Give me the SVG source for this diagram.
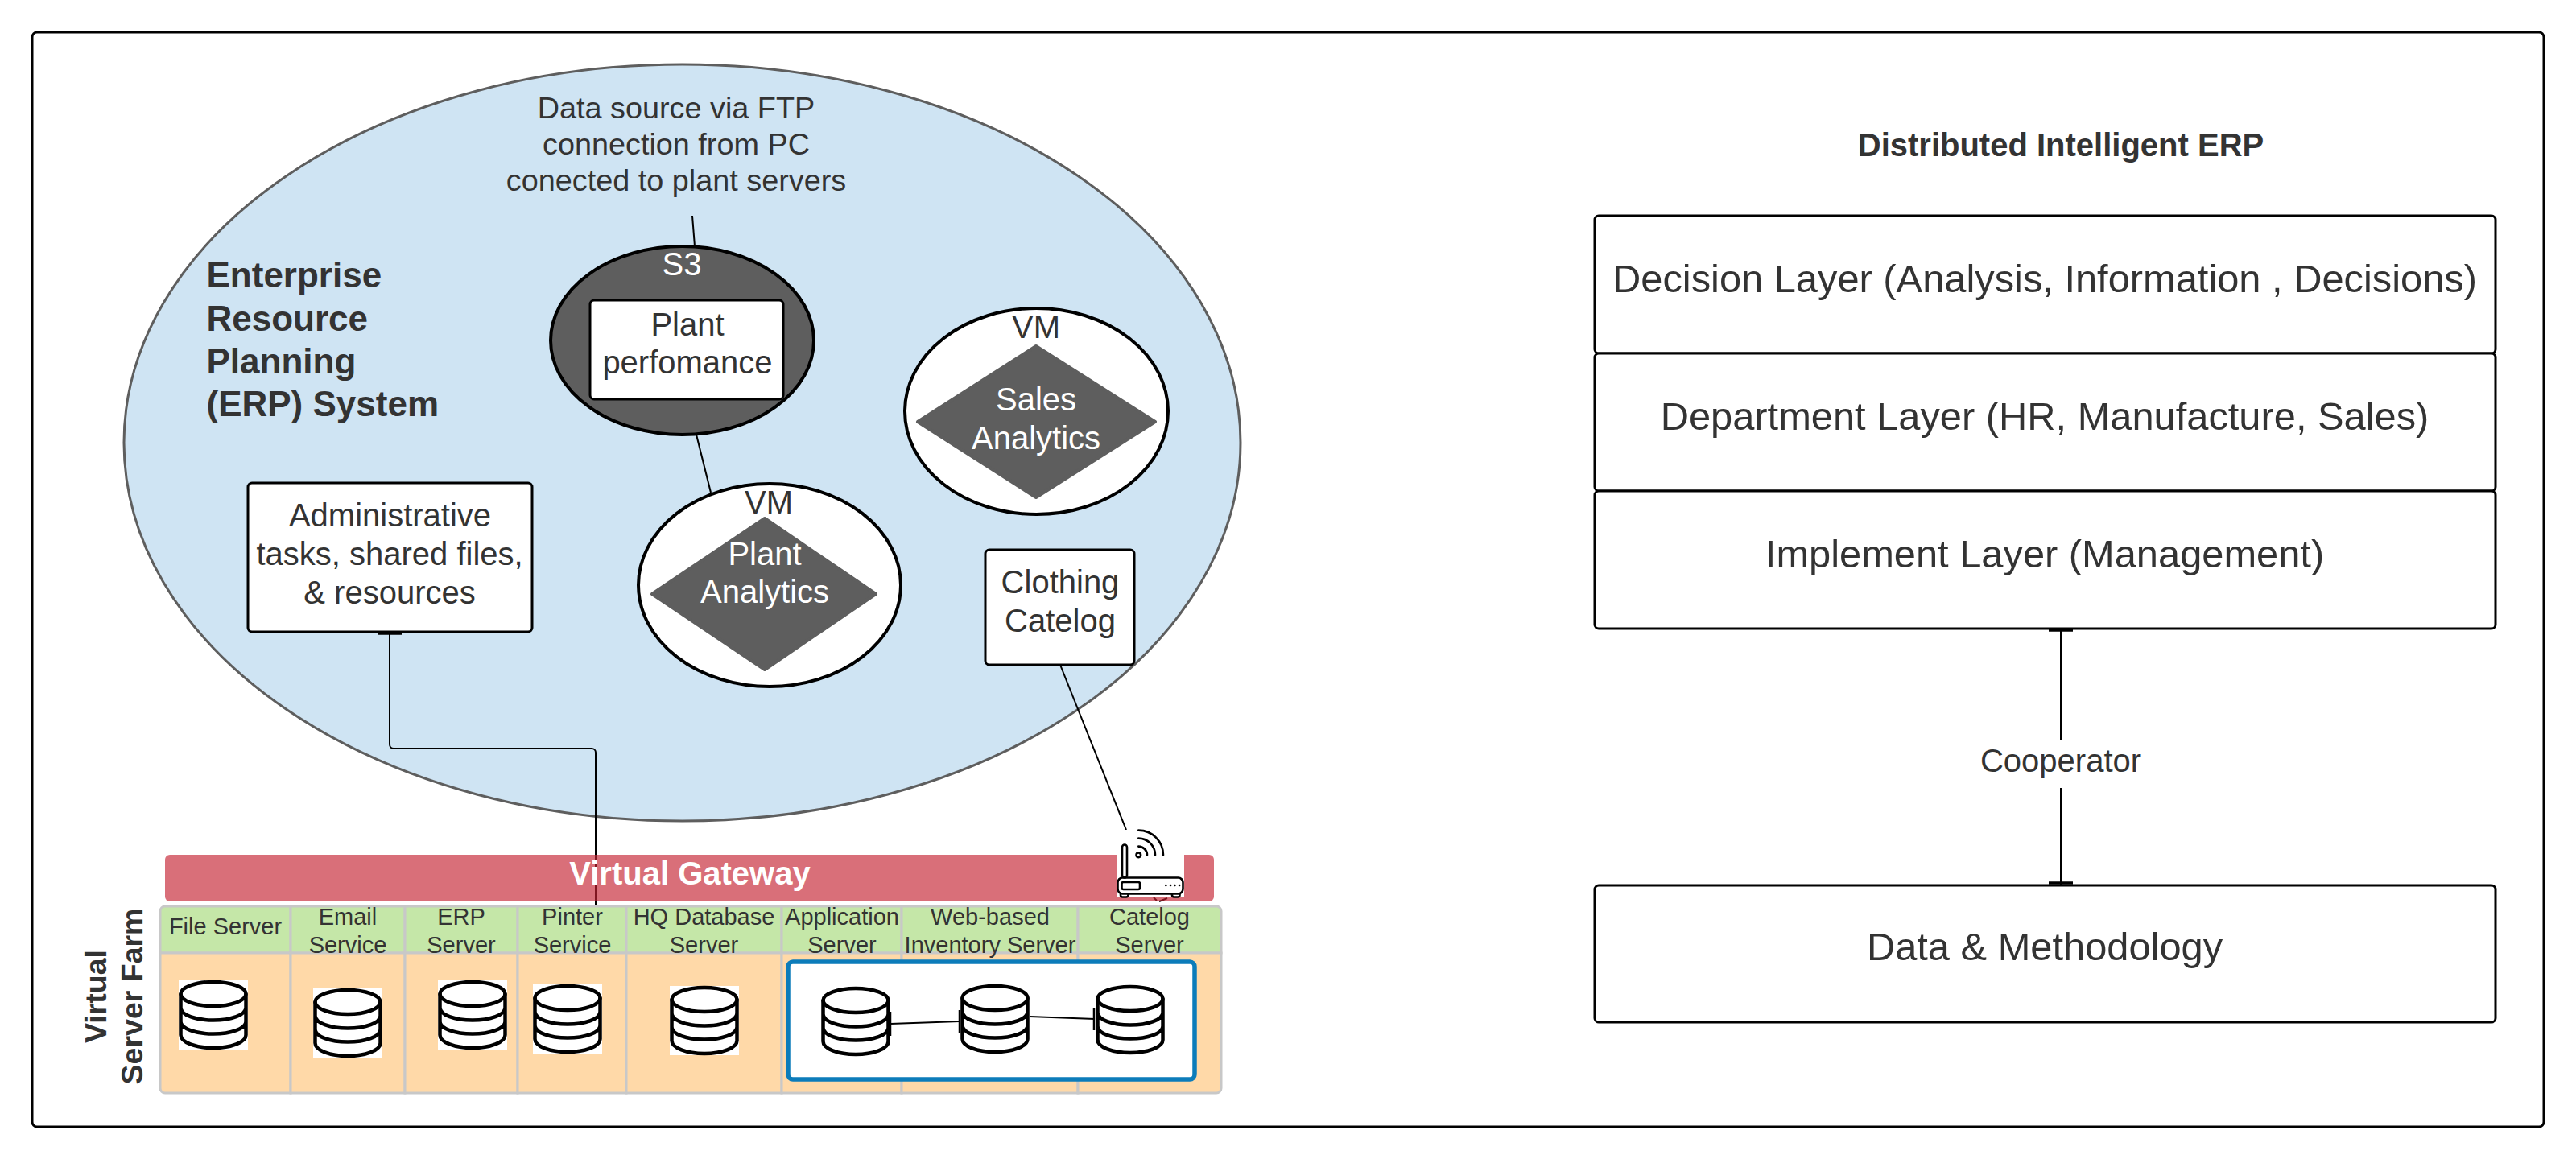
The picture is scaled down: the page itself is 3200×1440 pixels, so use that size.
<svg xmlns="http://www.w3.org/2000/svg" width="3200" height="1440" viewBox="0 0 3200 1440">
<style>
text{font-family:"Liberation Sans",Arial,sans-serif;fill:#333;text-anchor:middle}
.b{font-weight:700}
.w{fill:#fff}
.l{text-anchor:start}
.s29{font-size:29px}
.s37{font-size:37.500px}
.s38{font-size:37.800px}
.s40{font-size:40px}
.s44{font-size:44px}
.s49{font-size:48.800px}
.box{fill:#fff;stroke:#000;stroke-width:3}
.oval{stroke:#000;stroke-width:4}
.dark{fill:#5E5E5E}
.dia{fill:#5E5E5E;stroke:#5E5E5E;stroke-width:4;stroke-linejoin:round}
.con{fill:none;stroke:#000;stroke-width:2}
.tee{fill:none;stroke:#000;stroke-width:3.500}
.tee2{fill:none;stroke:#000;stroke-width:2.500}
.hd{fill:#C5E7A8;stroke:#C8C8C8;stroke-width:3}
.bd{fill:#FFD9A8;stroke:#C8C8C8;stroke-width:3}
.ic{fill:none;stroke:#000;stroke-width:4.500;stroke-linecap:round}
.rt{fill:none;stroke:#000;stroke-width:2.600;stroke-linecap:round;stroke-linejoin:round}
</style>
<defs>
<g id="db">
<rect width="86" height="86" fill="#fff"/>
<ellipse class="ic" cx="43" cy="17" rx="40.500" ry="15"/>
<path class="ic" d="M2.500,17V68C2.500,77 21,84 43,84S83.500,77 83.500,68V17M2.500,34C2.500,43 21,49.500 43,49.500S83.500,43 83.500,34M2.500,51C2.500,60 21,66.500 43,66.500S83.500,60 83.500,51"/>
</g>
</defs>
<rect width="3200" height="1440" fill="#fff"/>
<rect id="frame" x="40" y="40" width="3120" height="1360" rx="6" fill="#fff" stroke="#000" stroke-width="3"/>
<g id="erp-system">
<ellipse cx="847.500" cy="550" rx="693.500" ry="470" fill="#CFE4F3" stroke="#5E5E5E" stroke-width="3"/>
<text class="b s44 l" x="256.500" y="357">Enterprise</text>
<text class="b s44 l" x="256.500" y="411">Resource</text>
<text class="b s44 l" x="256.500" y="464">Planning</text>
<text class="b s44 l" x="256.500" y="517">(ERP) System</text>
</g>
<g id="data-source">
<text class="s38" x="840" y="147">Data source via FTP</text>
<text class="s38" x="840" y="192">connection from PC</text>
<text class="s38" x="840" y="237">conected to plant servers</text>
</g>
<g id="server-farm-label">
<text class="b s37" transform="translate(132,1238) rotate(-90)">Virtual</text>
<text class="b s37" transform="translate(177,1238) rotate(-90)">Server Farm</text>
</g>
<g id="col-file">
<path class="hd" d="M199,1184V1132a6,6 0 0 1 6,-6H361V1184Z"/>
<path class="bd" d="M199,1184H361V1358H205a6,6 0 0 1 -6,-6Z"/>
<text class="s29" x="280" y="1161">File Server</text>
<use href="#db" x="222" y="1218"/>
</g>
<g id="col-email">
<rect class="hd" x="361" y="1126" width="142" height="58"/>
<rect class="bd" x="361" y="1184" width="142" height="174"/>
<text class="s29" x="432" y="1149">Email</text>
<text class="s29" x="432" y="1184">Service</text>
<use href="#db" x="389" y="1228"/>
</g>
<g id="col-erp">
<rect class="hd" x="503" y="1126" width="140" height="58"/>
<rect class="bd" x="503" y="1184" width="140" height="174"/>
<text class="s29" x="573" y="1149">ERP</text>
<text class="s29" x="573" y="1184">Server</text>
<use href="#db" x="544" y="1218"/>
</g>
<g id="col-printer">
<rect class="hd" x="643" y="1126" width="135" height="58"/>
<rect class="bd" x="643" y="1184" width="135" height="174"/>
<text class="s29" x="711" y="1149">Pinter</text>
<text class="s29" x="711" y="1184">Service</text>
<use href="#db" x="662" y="1223"/>
</g>
<g id="col-hq">
<rect class="hd" x="778" y="1126" width="193" height="58"/>
<rect class="bd" x="778" y="1184" width="193" height="174"/>
<text class="s29" x="874.500" y="1149">HQ Database</text>
<text class="s29" x="874.500" y="1184">Server</text>
<use href="#db" x="832" y="1225"/>
</g>
<g id="col-app">
<rect class="hd" x="971" y="1126" width="149" height="58"/>
<rect class="bd" x="971" y="1184" width="149" height="174"/>
<text class="s29" x="1046" y="1149">Application</text>
<text class="s29" x="1046" y="1184">Server</text>
</g>
<g id="col-web">
<rect class="hd" x="1120" y="1126" width="219" height="58"/>
<rect class="bd" x="1120" y="1184" width="219" height="174"/>
<text class="s29" x="1230" y="1149">Web-based</text>
<text class="s29" x="1230" y="1184">Inventory Server</text>
</g>
<g id="col-catalog">
<path class="hd" d="M1339,1126H1511a6,6 0 0 1 6,6V1184H1339Z"/>
<path class="bd" d="M1339,1184H1517V1352a6,6 0 0 1 -6,6H1339Z"/>
<text class="s29" x="1428" y="1149">Catelog</text>
<text class="s29" x="1428" y="1184">Server</text>
</g>
<g id="cluster">
<rect x="979" y="1195" width="505" height="146" rx="6" fill="#fff" stroke="#0C7CBA" stroke-width="5.500"/>
<use href="#db" x="1020" y="1226"/>
<use href="#db" x="1193" y="1223"/>
<use href="#db" x="1361" y="1224"/>
</g>
<g id="connectors">
<path class="con" d="M860,268L863,306"/>
<path class="con" d="M865,540L883,612"/>
<path class="con" d="M484,786V925a5,5 0 0 0 5,5H735a5,5 0 0 1 5,5V1125"/>
<path class="tee" d="M470,787H499"/>
<path class="con" d="M1317,826L1399,1031"/>
<path class="con" d="M1433,1115L1437,1119M1440,1120L1450,1116"/>
<path class="con" d="M2560,782V919M2560,979V1100"/>
<path class="tee" d="M2545,783H2575M2545,1097H2575"/>
<path class="con" d="M1106,1272L1192,1269"/>
<path class="con" d="M1279,1263L1360,1266"/>
<path class="tee2" d="M1106,1257V1287M1192,1255V1283M1359,1252V1280"/>
</g>
<g id="s3">
<ellipse class="oval dark" cx="847.500" cy="423" rx="163.500" ry="117"/>
<text class="s40 w" x="847" y="342">S3</text>
</g>
<g id="plant-performance">
<rect class="box" x="733" y="373" width="240" height="123" rx="5"/>
<text class="s40" x="854" y="417">Plant</text>
<text class="s40" x="854" y="464">perfomance</text>
</g>
<g id="vm-sales">
<ellipse class="oval" cx="1287.500" cy="511" rx="163.500" ry="128" fill="#fff"/>
<text class="s40" x="1287" y="420">VM</text>
<path class="dia" d="M1287,430L1435,524L1287,618L1140,524Z"/>
<text class="s40 w" x="1287" y="510">Sales</text>
<text class="s40 w" x="1287" y="558">Analytics</text>
</g>
<g id="vm-plant">
<ellipse class="oval" cx="956" cy="727" rx="163" ry="126" fill="#fff"/>
<text class="s40" x="955" y="638">VM</text>
<path class="dia" d="M950,644L1088,738L950,832L810,738Z"/>
<text class="s40 w" x="950" y="702">Plant</text>
<text class="s40 w" x="950" y="749">Analytics</text>
</g>
<g id="admin">
<rect class="box" x="308" y="600" width="353" height="185" rx="5"/>
<text class="s40" x="484.500" y="654">Administrative</text>
<text class="s40" x="484" y="702">tasks, shared files,</text>
<text class="s40" x="484" y="750">&amp; resources</text>
</g>
<g id="clothing">
<rect class="box" x="1224" y="683" width="185" height="143" rx="5"/>
<text class="s40" x="1317" y="737">Clothing</text>
<text class="s40" x="1317" y="785">Catelog</text>
</g>
<g id="gateway">
<rect x="205" y="1062" width="1303" height="58" rx="6" fill="#C52231" fill-opacity=".65"/>
<text class="b s40 w" x="857" y="1099">Virtual Gateway</text>
</g>
<g id="router">
<rect x="1387" y="1031" width="84" height="84" fill="#fff"/>
<rect class="rt" x="1394" y="1049.500" width="6" height="41" rx="3"/>
<rect class="rt" x="1388.500" y="1090.500" width="81" height="20" rx="6" stroke-width="3"/>
<rect class="rt" x="1393.500" y="1096" width="22.500" height="9" rx="2"/>
<path class="rt" d="M1392,1111V1112a2.500,2.500 0 0 0 2.500,2.500H1399a2.500,2.500 0 0 0 2.500,-2.500V1111M1456,1111V1112a2.500,2.500 0 0 0 2.500,2.500H1463a2.500,2.500 0 0 0 2.500,-2.500V1111"/>
<circle class="rt" cx="1414.300" cy="1062.300" r="2.800"/>
<path class="rt" d="M1414.300,1051.600a10.700,10.700 0 0 1 10.700,10.700M1414.300,1041.600a20.700,20.700 0 0 1 20.700,20.700M1414.300,1031.600a30.700,30.700 0 0 1 30.700,30.700"/>
<path class="rt" d="M1448.300,1100h.1M1454,1100h.1M1459.300,1100h.1M1465,1100h.1"/>
</g>
<g id="layers">
<text class="b s40" x="2560" y="194">Distributed Intelligent ERP</text>
</g>
<g id="decision-layer">
<rect class="box" x="1981" y="268" width="1119" height="171" rx="5"/>
<text class="s49" x="2540" y="363">Decision Layer (Analysis, Information , Decisions)</text>
</g>
<g id="department-layer">
<rect class="box" x="1981" y="439" width="1119" height="171" rx="5"/>
<text class="s49" x="2540" y="534">Department Layer (HR, Manufacture, Sales)</text>
</g>
<g id="implement-layer">
<rect class="box" x="1981" y="610" width="1119" height="171" rx="5"/>
<text class="s49" x="2540" y="705">Implement Layer (Management)</text>
</g>
<g id="data-methodology">
<rect class="box" x="1981" y="1100" width="1119" height="170" rx="5"/>
<text class="s49" x="2540" y="1193">Data &amp; Methodology</text>
</g>
<text class="s40" x="2560" y="959">Cooperator</text>
</svg>
